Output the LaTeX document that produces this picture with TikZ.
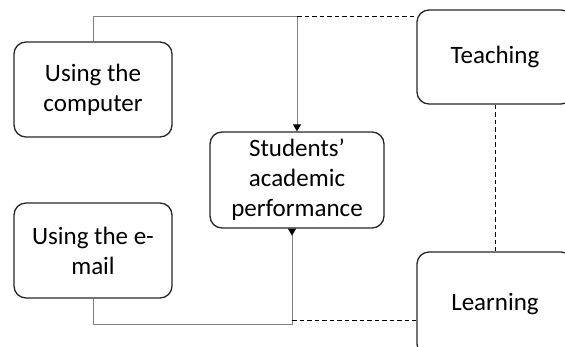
\documentclass[tikz,border=0pt]{standalone}
\usepackage{fontspec}
\setmainfont{Carlito}
\usetikzlibrary{arrows.meta}
\tikzset{
	x=1pt, y=-1pt, % Unidades en pixeles de la imagen
	caja/.style={draw=black!85, line width=1.3pt, rounded corners=12pt, align=center,
		font=\fontsize{25}{30}\selectfont, inner sep=2pt}, % Propiedades de los nodos
	enlace/.style={draw=black!50, line width=0.9pt}, % Lineas continuas
	punteada/.style={draw=black, line width=0.9pt, dash pattern=on 4.5pt off 3pt}, % Lineas punteadas
	punta/.style={-{Triangle[length=7pt, width=8pt, color=black]}}, % Flecha hacia la caja
	puntainv/.style={-{Triangle[reversed, length=7pt, width=8pt, color=black]}} % Flecha invertida
}

\begin{document}
\begin{tikzpicture}
				\useasboundingbox (0,0) rectangle (565,346);
				\begin{scope}
				\clip (0,0) rectangle (565,346);
				\node[caja, minimum width=158pt, minimum height=95pt] (comp) at (93,89.5) {Using the\\computer};
				\node[caja, minimum width=158pt, minimum height=95pt] (email) at (93,250.5) {Using the e-\\mail};
				\node[caja, minimum width=174pt, minimum height=96pt] (stud) at (297,180) {Students'\\academic\\performance};
				\node[caja, minimum width=156pt, minimum height=94pt] (teach) at (495,57) {Teaching};
				\node[caja, minimum width=156pt, minimum height=104pt] (learn) at (495,304) {Learning};
				\end{scope}
				\coordinate (tj) at (297,16);
				\coordinate (bj) at (292,324);
				\coordinate (bd) at (292,320);
				\draw[enlace, punta] (comp.north) |- (tj) -- (stud.north);
				\draw[enlace, puntainv] (email.south) |- (bj) -- (bj |- stud.south);
				\draw[punteada] (tj) -- (teach.west |- tj);
				\draw[punteada] (bd) -- (learn.west |- bd);
				\draw[punteada] (teach.south) -- (learn.north);
			\end{tikzpicture}
\end{document}
